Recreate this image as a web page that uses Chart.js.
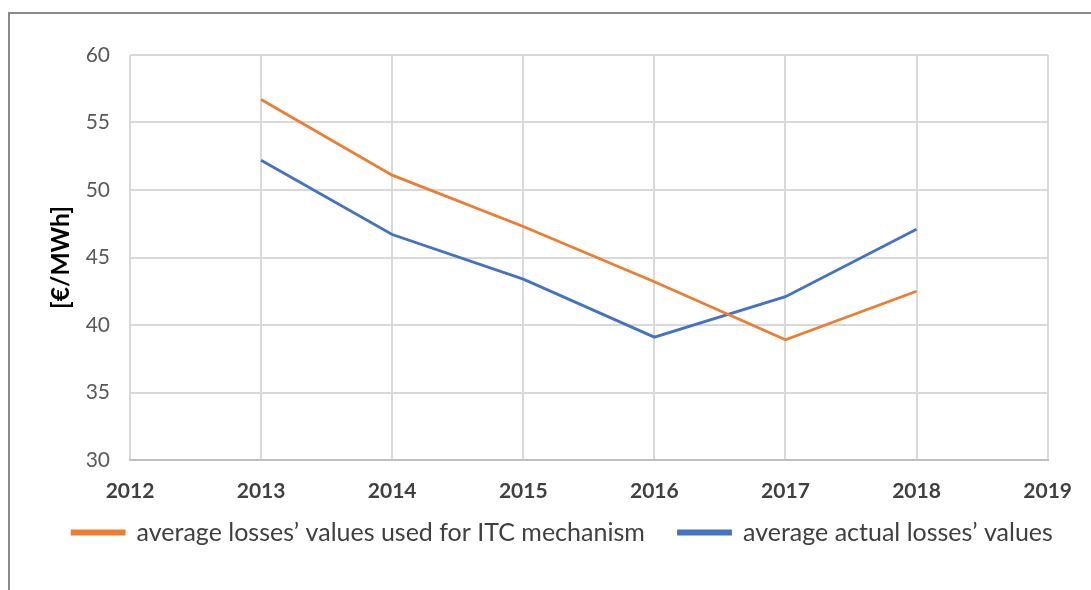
<!DOCTYPE html>
<html>
<head>
<meta charset="utf-8">
<script src="https://cdn.jsdelivr.net/npm/chart.js@4"></script>
<style>
  html, body { margin: 0; padding: 0; background: #fff; }
  #wrap { position: relative; width: 1091px; height: 590px; overflow: hidden; }
  #frame { position: absolute; left: 8px; top: 12px; width: 1200px; height: 700px; border: 2px solid #8a8a8a; box-sizing: border-box; }
  #chart { position: absolute; left: 0; top: 0; }
</style>
</head>
<body>
<div id="wrap">
  <div id="frame"></div>
  <canvas id="chart" width="1091" height="590"></canvas>
</div>
<script>
const years = [2013, 2014, 2015, 2016, 2017, 2018];
const itcValues = [56.7, 51.1, 47.3, 43.2, 38.9, 42.5];
const actualValues = [52.2, 46.7, 43.4, 39.1, 42.1, 47.1];
const xMin = 2012;
const xMax = 2019;
const yTicks = [30, 35, 40, 45, 50, 55, 60];

const FONT = "Lato, 'Liberation Sans', sans-serif";

function toPoints(vals) {
  return years.map((y, i) => ({ x: y, y: vals[i] }));
}

new Chart(document.getElementById("chart").getContext("2d"), {
  type: "line",
  data: {
    datasets: [
      {
        label: "average losses\u2019 values used for ITC mechanism",
        data: toPoints(itcValues),
        borderColor: "#ED7D31",
        backgroundColor: "#ED7D31",
        borderWidth: 2.8,
        pointRadius: 0,
        tension: 0,
        fill: false,
      },
      {
        label: "average actual losses\u2019 values",
        data: toPoints(actualValues),
        borderColor: "#4472C4",
        backgroundColor: "#4472C4",
        borderWidth: 2.8,
        pointRadius: 0,
        tension: 0,
        fill: false,
      },
    ],
  },
  options: {
    responsive: false,
    animation: false,
    layout: { padding: { left: 46, right: 32, top: 55, bottom: 35 } },
    plugins: {
      tooltip: { enabled: false },
      legend: {
        position: "bottom",
        labels: {
          color: "#404040",
          font: { family: FONT, size: 25 },
          boxWidth: 52,
          boxHeight: 3,
          padding: 15,
          // wider gap between the two entries, like the original
          generateLabels: (chart) => {
            const items = Chart.defaults.plugins.legend.labels.generateLabels(chart);
            items[0].text += "\u2003";
            return items;
          },
        },
      },
    },
    scales: {
      x: {
        type: "linear",
        min: xMin,
        max: xMax,
        afterFit: (scale) => { scale.height = 45; },
        ticks: {
          stepSize: 1,
          color: "#404040",
          font: { family: FONT, size: 21, weight: "bold" },
          padding: 19,
          callback: (v) => String(v),
        },
        grid: { color: "#d9d9d9", lineWidth: 2, drawTicks: false },
        border: { color: "#bfbfbf", width: 2 },
      },
      y: {
        min: 30,
        max: 60,
        afterBuildTicks: (axis) => { axis.ticks = yTicks.map((v) => ({ value: v })); },
        afterFit: (scale) => { scale.width = 84; },
        ticks: {
          color: "#595959",
          font: { family: FONT, size: 21 },
          padding: 20,
        },
        grid: { color: "#d9d9d9", lineWidth: 2, drawTicks: false },
        border: { display: false },
        title: {
          display: true,
          text: "[\u20ac/MWh]",
          color: "#000",
          font: { family: FONT, size: 24.5, weight: "bold" },
          padding: { top: 0, bottom: 0 },
        },
      },
    },
  },
  plugins: [{
    id: "legend_nudge",
    afterLayout: (chart) => {
      // legend in the original sits a bit right of centre
      chart.legend.left += 10;
      chart.legend.right += 10;
    },
  }],
});
</script>
</body>
</html>
